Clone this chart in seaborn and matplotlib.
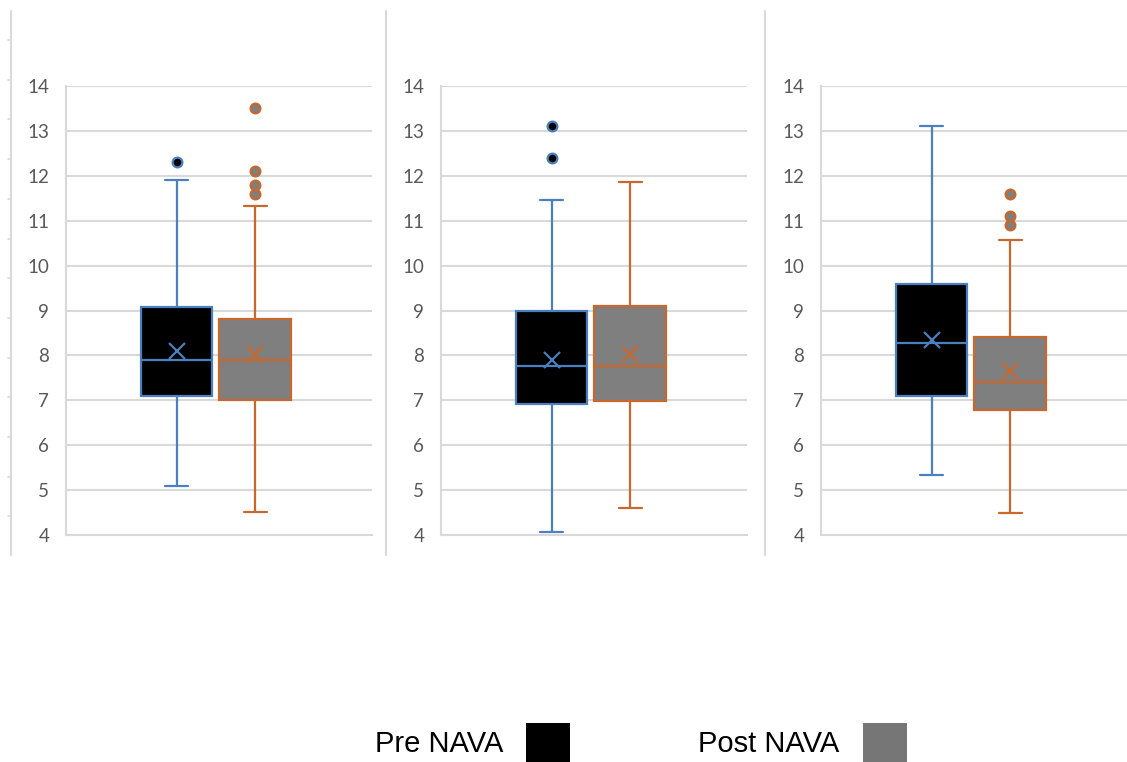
import numpy as np
import pandas as pd
import matplotlib
matplotlib.use("Agg")
import matplotlib.pyplot as plt
from matplotlib.patches import Patch
import seaborn as sns

# ---------------- data ----------------
panels = ["A", "B", "C"]
series_names = ["Pre NAVA", "Post NAVA"]

pre_low = [5.10, 4.07, 5.33]
pre_q1 = [7.10, 6.91, 7.10]
pre_med = [7.90, 7.77, 8.28]
pre_q3 = [9.07, 9.00, 9.60]
pre_high = [11.90, 11.47, 13.10]
pre_mean = [8.10, 7.90, 8.35]
pre_out = [[12.3], [12.4, 13.1], []]

post_low = [4.52, 4.61, 4.49]
post_q1 = [7.00, 6.98, 6.78]
post_med = [7.90, 7.77, 7.40]
post_q3 = [8.82, 9.09, 8.40]
post_high = [11.32, 11.87, 10.58]
post_mean = [8.03, 8.03, 7.66]
post_out = [[11.6, 11.8, 12.1, 13.5], [], [10.9, 11.1, 11.6]]

yticks = [4, 5, 6, 7, 8, 9, 10, 11, 12, 13, 14]

# ---------------- styling ----------------
fill_colors = {"Pre NAVA": "#000000", "Post NAVA": "#7f7f7f"}
edge_colors = {"Pre NAVA": "#4a80c0", "Post NAVA": "#c8682c"}
legend_colors = {"Pre NAVA": "#000000", "Post NAVA": "#767676"}
grid_color = "#d9d9d9"
label_color = "#595959"

sns.set_theme(style="white")
plt.rcParams["font.family"] = ["Lato", "DejaVu Sans"]


def rows_from_summary(panel, series, lo, q1, med, q3, hi, outs):
    """Build a table whose linear-percentile quartiles equal the summary."""
    k = len(outs) + 1
    vals = [lo] + [q1] * k + [med] * k + [q3] * k + [hi] + list(outs)
    return pd.DataFrame({"panel": panel, "series": series, "value": vals})


W = 1127
H = 762
fig = plt.figure(figsize=(W / 100, H / 100), dpi=100)

ax_lefts = [66, 441, 821]
ax_width = 306
y_top, y_bot = 86, 535
box_width = 0.513
box_gap = 0.09

for i, p in enumerate(panels):
    ax = fig.add_axes([ax_lefts[i] / W, 1 - y_bot / H, ax_width / W, (y_bot - y_top) / H])
    df = pd.concat([
        rows_from_summary(p, "Pre NAVA", pre_low[i], pre_q1[i], pre_med[i], pre_q3[i], pre_high[i], pre_out[i]),
        rows_from_summary(p, "Post NAVA", post_low[i], post_q1[i], post_med[i], post_q3[i], post_high[i], post_out[i]),
    ], ignore_index=True)
    ax.set_axisbelow(True)
    ax.yaxis.grid(True, color=grid_color, linewidth=1.5)
    for s in series_names:
        sub = df[df["series"] == s]
        sns.boxplot(
            data=sub, x="panel", y="value", hue="series", hue_order=series_names,
            dodge=True, palette=fill_colors, saturation=1, linecolor=edge_colors[s],
            linewidth=1.6, width=box_width, gap=box_gap, legend=False, ax=ax,
            flierprops=dict(marker="o", markersize=7, markerfacecolor=fill_colors[s],
                            markeredgecolor=edge_colors[s], markeredgewidth=1.6),
            capwidths=0.075,
        )
    means = pd.DataFrame({
        "panel": [p, p],
        "series": series_names,
        "mean": [pre_mean[i], post_mean[i]],
    })
    sns.pointplot(
        data=means, x="panel", y="mean", hue="series", hue_order=series_names,
        palette=edge_colors, markers="x", linestyles="none", dodge=box_width / 2,
        errorbar=None, markersize=11, markeredgewidth=1.6, legend=False, ax=ax,
    )
    ax.set_xlim(-0.49, 0.51)
    ax.set_ylim(4, 14)
    ax.set_yticks(yticks)
    ax.set_yticklabels([str(t) for t in yticks])
    ax.set_xticks([])
    ax.set_xlabel("")
    ax.set_ylabel("")
    ax.tick_params(axis="y", length=0, pad=12, labelsize=13.5, labelcolor=label_color)
    for side in ["top", "right"]:
        ax.spines[side].set_visible(False)
    for side in ["left", "bottom"]:
        ax.spines[side].set_color(grid_color)
        ax.spines[side].set_linewidth(1.5)

# separator lines between the pasted panels
over = fig.add_axes([0, 0, 1, 1], zorder=-1)
over.set_xlim(0, W)
over.set_ylim(H, 0)
over.axis("off")
for xs in [10.5, 385.5, 765]:
    over.plot([xs, xs], [11, 555], color=grid_color, linewidth=1.5)
for yt in np.arange(40, 520, 39.7):
    over.plot([7.5, 10.5], [yt, yt], color=grid_color, linewidth=1.2)

# legend
handles = [Patch(facecolor=legend_colors[s], edgecolor="none") for s in series_names]
fig.legend(handles, series_names, ncol=2, markerfirst=False, frameon=False,
           prop={"family": "Liberation Sans", "size": 21}, labelcolor="black",
           handlelength=1.51, handleheight=1.66, handletextpad=0.79, columnspacing=4.38,
           loc="lower left", bbox_to_anchor=(375 / W, 0.0), borderpad=0, borderaxespad=0)

fig.savefig("out.png", dpi=100, facecolor="white")
